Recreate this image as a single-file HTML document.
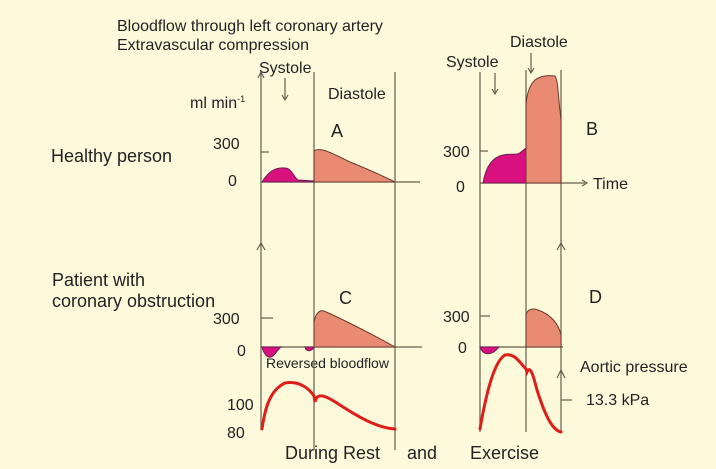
<!DOCTYPE html>
<html><head><meta charset="utf-8"><style>
body{margin:0;background:#fcfadb;}
svg{display:block}
text{font-family:"Liberation Sans",sans-serif;fill:#222}
</style></head><body>
<svg width="716" height="469" viewBox="0 0 716 469">
<rect width="716" height="469" fill="#fcfadb"/>
<g font-size="16" fill="#333">
<text x="117" y="31">Bloodflow through left coronary artery</text>
<text x="117" y="50">Extravascular compression</text>
<text x="259" y="73">Systole</text>
<text x="328" y="99">Diastole</text>
<text x="190" y="108">ml min<tspan font-size="9" dy="-6">-1</tspan></text>
<text x="213" y="149">300</text>
<text x="228" y="186">0</text>
<text x="446" y="67">Systole</text>
<text x="510" y="47">Diastole</text>
<text x="443" y="157">300</text>
<text x="456" y="192">0</text>
<text x="593" y="189">Time</text>
<text x="213" y="324">300</text>
<text x="237" y="356">0</text>
<text x="443" y="322">300</text>
<text x="458" y="353">0</text>
<text x="266" y="368" font-size="14">Reversed bloodflow</text>
<text x="580" y="372">Aortic pressure</text>
<text x="586" y="405">13.3 kPa</text>
<text x="227" y="410">100</text>
<text x="227" y="438">80</text>
</g>
<g font-size="18" fill="#111">
<text x="51" y="162">Healthy person</text>
<text x="52" y="286">Patient with</text>
<text x="52" y="307">coronary obstruction</text>
<text x="331" y="137">A</text>
<text x="586" y="135">B</text>
<text x="339" y="304">C</text>
<text x="589" y="303">D</text>
<text x="285" y="459">During Rest</text>
<text x="407" y="459">and</text>
<text x="470" y="459">Exercise</text>
</g>
<g stroke="#665e4e" stroke-width="1.2" fill="none">
<line x1="261" y1="72" x2="261" y2="430"/>
<line x1="314" y1="72" x2="314" y2="450"/>
<line x1="395" y1="72" x2="395" y2="450"/>
<line x1="480" y1="72" x2="480" y2="432"/>
<line x1="526" y1="70" x2="526" y2="432"/>
<line x1="561" y1="70" x2="561" y2="432"/>
<line x1="261" y1="182" x2="420" y2="182"/>
<line x1="480" y1="183" x2="585" y2="183"/>
<line x1="261" y1="347" x2="422" y2="347"/>
<line x1="480" y1="347" x2="563" y2="347"/>
<line x1="261" y1="152" x2="269" y2="152"/>
<line x1="480" y1="151" x2="488" y2="151"/>
<line x1="261" y1="318" x2="273" y2="318"/>
<line x1="480" y1="316" x2="490" y2="316"/>
<line x1="561" y1="400" x2="572" y2="400"/>
<line x1="285" y1="78" x2="285" y2="99"/><path d="M282 95 L285 100 L288 95"/>
<line x1="495" y1="73" x2="495" y2="93"/><path d="M492 89 L495 94 L498 89"/>
<line x1="531" y1="53" x2="531" y2="72"/><path d="M528 68 L531 73 L534 68"/>
<path d="M257 250 L261 243 L265 250"/>
<path d="M557 250 L561 243 L565 250"/>
<path d="M557 378 L561 370 L565 378"/>
<path d="M258 78 L261 72 L264 78"/>
<path d="M582 180 L587 183 L582 186"/>
</g>
<path d="M262 182 C268 172 275 167 285 168 C292 168 294 178 298 180 L314 181 L314 182 Z" fill="#d81080" stroke="#6a2050" stroke-width="1"/>
<path d="M314 182 L314 151 C320 147 330 152 350 162 C370 170 385 177 395 182 Z" fill="#e98a73" stroke="#6a3a30" stroke-width="1"/>
<path d="M483 183 C486 165 493 157 503 155 C512 153 517 156 521 152 L526 148 L526 183 Z" fill="#d81080" stroke="#6a2050" stroke-width="1"/>
<path d="M526 183 L526 105 C527 92 530 85 535 80 C540 76 548 75 555 76 C558 80 558 95 561 120 L561 183 Z" fill="#e98a73" stroke="#6a3a30" stroke-width="1"/>
<path d="M262 347 C264 355 268 358 271 357 C275 356 277 350 281 347 Z M305 347 C306 352 312 352 314 347 Z" fill="#d81080" stroke="#6a2050" stroke-width="1"/>
<path d="M314 347 L314 322 C316 312 320 310 324 311 C340 318 370 333 395 347 Z" fill="#e98a73" stroke="#6a3a30" stroke-width="1"/>
<path d="M480 347 C483 356 492 356 499 347 Z" fill="#d81080" stroke="#6a2050" stroke-width="1"/>
<path d="M526 347 L526 315 C527 309 533 308 538 310 C552 315 559 325 561 335 L561 347 Z" fill="#e98a73" stroke="#6a3a30" stroke-width="1"/>
<g stroke="#dd1f1a" stroke-width="3" fill="none" stroke-linecap="round">
<path d="M262 429 C265 408 270 390 285 383 C300 380 310 390 314 396 L315 402 C317 392 325 395 340 405 C360 418 378 428 395 429"/>
<path d="M480 429 C485 400 493 362 505 355 C515 353 520 363 526 369 L527 372 C530 365 533 374 537 390 C545 415 552 430 561 432"/>
</g>
</svg>
</body></html>
